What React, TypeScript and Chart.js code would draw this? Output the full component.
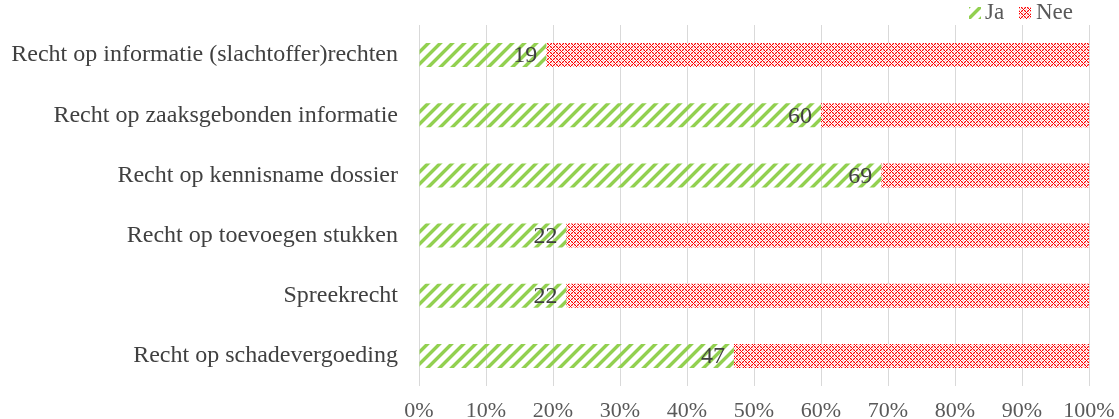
import React, { useEffect, useRef } from "react";
import { Chart, registerables } from "chart.js";

Chart.register(...registerables);

const categories = [
  "Recht op informatie (slachtoffer)rechten",
  "Recht op zaaksgebonden informatie",
  "Recht op kennisname dossier",
  "Recht op toevoegen stukken",
  "Spreekrecht",
  "Recht op schadevergoeding",
];
const jaValues = [19, 60, 69, 22, 22, 47];
const neeValues = [81, 40, 31, 78, 78, 53];
const seriesNames = ["Ja", "Nee"];
const xTicks = [0, 10, 20, 30, 40, 50, 60, 70, 80, 90, 100];

const FONT = "'Liberation Serif', 'Times New Roman', serif";

function makeGreenPattern(ctx: CanvasRenderingContext2D): CanvasPattern | string {
  const c = document.createElement("canvas");
  c.width = 12;
  c.height = 12;
  const g = c.getContext("2d");
  if (!g) return "#92d050";
  const img = g.createImageData(12, 12);
  for (let y = 0; y < 12; y++) {
    for (let x = 0; x < 12; x++) {
      const i = (y * 12 + x) * 4;
      const m = (x + y) % 12;
      let a = 0;
      if (m >= 1 && m <= 4) a = 255;
      else if (m === 0 || m === 5) a = 110;
      img.data[i] = 146;
      img.data[i + 1] = 208;
      img.data[i + 2] = 80;
      img.data[i + 3] = a;
    }
  }
  g.putImageData(img, 0, 0);
  return ctx.createPattern(c, "repeat") || "#92d050";
}

function makeRedPattern(ctx: CanvasRenderingContext2D): CanvasPattern | string {
  const c = document.createElement("canvas");
  c.width = 6;
  c.height = 6;
  const g = c.getContext("2d");
  if (!g) return "#ff0000";
  const img = g.createImageData(6, 6);
  for (let y = 0; y < 6; y++) {
    for (let x = 0; x < 6; x++) {
      const i = (y * 6 + x) * 4;
      const d1 = (x - y + 6) % 6;
      const d2 = (x + y) % 6;
      let r = 255, gg = 255, b = 255;
      if (d1 === 0 || d2 === 0) {
        r = 255; gg = 0; b = 0;
      } else if (d1 === 3 || d2 === 3) {
        r = 255; gg = 170; b = 170;
      }
      img.data[i] = r;
      img.data[i + 1] = gg;
      img.data[i + 2] = b;
      img.data[i + 3] = 255;
    }
  }
  g.putImageData(img, 0, 0);
  return ctx.createPattern(c, "repeat") || "#ff0000";
}

export default function App() {
  const ref = useRef<HTMLCanvasElement | null>(null);

  useEffect(() => {
    const canvas = ref.current;
    if (!canvas) return;
    const ctx = canvas.getContext("2d");
    if (!ctx) return;
    const green = makeGreenPattern(ctx);
    const red = makeRedPattern(ctx);

    const labelPlugin = {
      id: "inlineLabels",
      afterDatasetsDraw(chart: any) {
        const c = chart.ctx;
        const meta = chart.getDatasetMeta(0);
        c.save();
        c.font = `24px ${FONT}`;
        c.fillStyle = "#404040";
        c.textAlign = "right";
        c.textBaseline = "middle";
        meta.data.forEach((el: any, i: number) => {
          c.fillText(String(jaValues[i]), el.x - 9, el.y + 1);
        });
        c.restore();
      },
    };

    const legendPlugin = {
      id: "customLegend",
      afterDraw(chart: any) {
        const c = chart.ctx;
        c.save();
        c.font = `23px ${FONT}`;
        c.textBaseline = "middle";
        c.textAlign = "left";
        c.fillStyle = green;
        c.fillRect(969, 7, 12, 12);
        c.fillStyle = "#595959";
        c.fillText(seriesNames[0], 985, 13);
        c.fillStyle = red;
        c.fillRect(1019, 7, 12, 12);
        c.fillStyle = "#595959";
        c.fillText(seriesNames[1], 1036, 13);
        c.restore();
      },
    };

    const chart = new Chart(canvas, {
      type: "bar",
      data: {
        labels: categories,
        datasets: [
          {
            label: seriesNames[0],
            data: jaValues,
            backgroundColor: green as any,
            borderWidth: 0,
            categoryPercentage: 1,
            barPercentage: 0.4,
          },
          {
            label: seriesNames[1],
            data: neeValues,
            backgroundColor: red as any,
            borderWidth: 0,
            categoryPercentage: 1,
            barPercentage: 0.4,
          },
        ],
      },
      options: {
        indexAxis: "y",
        responsive: false,
        animation: false,
        events: [],
        layout: { padding: { top: 25, right: 30, left: 0, bottom: 0 } },
        plugins: {
          legend: { display: false },
          tooltip: { enabled: false },
        },
        scales: {
          x: {
            stacked: true,
            min: 0,
            max: 100,
            afterBuildTicks(scale: any) {
              scale.ticks = xTicks.map((v) => ({ value: v }));
            },
            afterFit(scale: any) {
              scale.height = 33;
              scale.paddingLeft = 0;
              scale.paddingRight = 0;
            },
            grid: { color: "#d9d9d9", lineWidth: 1, drawTicks: false },
            border: { display: false },
            ticks: {
              padding: 12,
              color: "#595959",
              font: { family: FONT, size: 22 },
              callback: (v: any) => `${v}%`,
            },
          },
          y: {
            stacked: true,
            afterFit(scale: any) {
              scale.width = 419;
              scale.paddingTop = 0;
              scale.paddingBottom = 0;
            },
            grid: { display: false, drawTicks: false },
            border: { display: false },
            ticks: {
              padding: 21,
              color: "#404040",
              font: { family: FONT, size: 24 },
            },
          },
        },
      },
      plugins: [labelPlugin, legendPlugin],
    });

    return () => {
      chart.destroy();
    };
  }, []);

  return (
    <div style={{ position: "fixed", left: 0, top: 0, width: 1119, height: 419, background: "#fff" }}>
      <canvas ref={ref} width={1119} height={419} style={{ display: "block" }} />
    </div>
  );
}
